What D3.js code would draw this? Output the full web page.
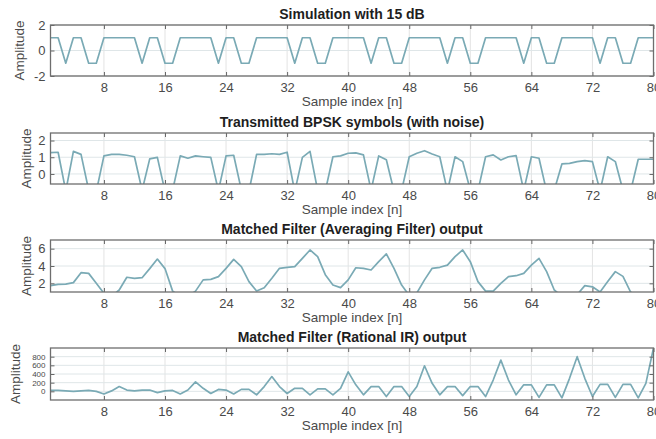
<!DOCTYPE html>
<html>
<head>
<meta charset="utf-8">
<script src="https://cdn.jsdelivr.net/npm/d3@7"></script>
<style>
  body { margin: 0; background: #fff; }
  svg { display: block; font-family: "Liberation Sans", Arial, sans-serif; }
</style>
</head>
<body>
<svg id="svg" width="656" height="439"></svg>
<script>
// chart data
var titles = [
  "Simulation with 15 dB",
  "Transmitted BPSK symbols (with noise)",
  "Matched Filter (Averaging Filter) output",
  "Matched Filter (Rational IR) output"
];
var xTicks = [8, 16, 24, 32, 40, 48, 56, 64, 72, 80];

var simSymbols = [
  1, 1, -1, 1, 1, -1, -1, 1, 1, 1,
  1, 1, -1, 1, 1, -1, -1, 1, 1, 1,
  1, 1, -1, 1, 1, -1, -1, 1, 1, 1,
  1, 1, -1, 1, 1, -1, -1, 1, 1, 1,
  1, 1, -1, 1, 1, -1, -1, 1, 1, 1,
  1, 1, -1, 1, 1, -1, -1, 1, 1, 1,
  1, 1, -1, 1, 1, -1, -1, 1, 1, 1,
  1, 1, -1, 1, 1, -1, -1, 1, 1, 1
];
var simTicks = [-2, 0, 2];

var noisySymbols = [
  1.28, 1.30, -1.02, 1.35, 1.17, -0.96, -1.05, 1.08, 1.17, 1.17,
  1.12, 1.03, -0.98, 0.90, 0.99, -1.04, -0.97, 1.08, 0.94, 1.08,
  1.03, 0.99, -1.01, 1.08, 1.12, -0.95, -1.03, 1.17, 1.17, 1.21,
  1.17, 1.30, -1.06, 0.99, 1.35, -0.98, -1.02, 1.03, 1.08, 1.24,
  1.26, 1.14, -0.97, 1.08, 0.85, -1.03, -0.99, 1.03, 1.24, 1.39,
  1.19, 1.03, -1.04, 1.03, 0.74, -0.96, -1.01, 1.03, 1.14, 0.84,
  1.03, 1.10, -0.99, 1.03, 0.94, -1.05, -0.97, 0.60, 0.63, 0.74,
  0.80, 0.74, -1.02, 1.03, 0.74, -0.98, -1.03, 0.88, 0.88, 0.88
];
var noisyTicks = [0, 1, 2];

var avgFilterOut = [
  1.73, 1.88, 1.90, 2.08, 3.23, 3.15, 2.00, 0.85, 0.50, 1.23,
  2.70, 2.58, 2.65, 3.70, 4.80, 3.70, 1.10, 0.50, 0.50, 1.10,
  2.40, 2.46, 2.77, 3.73, 4.77, 3.92, 2.20, 1.12, 1.50, 2.58,
  3.73, 3.85, 3.92, 4.88, 5.85, 5.08, 3.00, 1.80, 1.50, 2.40,
  3.80, 3.73, 3.54, 4.50, 5.40, 3.73, 1.80, 0.60, 0.90, 2.40,
  3.73, 3.85, 4.10, 5.08, 5.85, 4.50, 2.20, 1.10, 1.10, 2.00,
  2.77, 2.88, 3.15, 4.10, 4.88, 3.35, 1.23, 0.50, 0.50, 0.70,
  1.73, 1.60, 1.00, 2.20, 3.35, 2.80, 1.00, 0.50, 0.50, 0.50
];
var avgTicks = [2, 4, 6];

var iirFilterOut = [
  20, 20, 10, 0, 10, 20, 0, -60, 10, 110,
  30, 10, 30, 30, -30, 10, 20, -60, 30, 220,
  70, -50, 45, 30, -60, 45, 45, -80, 110, 340,
  110, -50, 70, 70, -80, 55, 55, -80, 70, 450,
  150, -80, 110, 110, -120, 110, 110, -120, 110, 590,
  185, -80, 110, 110, -100, 110, 110, -120, 260, 720,
  260, -80, 150, 150, -140, 150, 150, -150, 300, 800,
  300, -120, 160, 160, -140, 160, 160, -150, 185, 1000
];
var iirTicks = [0, 200, 400, 600, 800];

var panels = [
  {title: titles[0], values: simSymbols, domain: [-2, 2], ticks: simTicks, top: 25, bottom: 76, labelX: 24, tickFont: 13},
  {title: titles[1], values: noisySymbols, domain: [-0.6, 2.45], ticks: noisyTicks, top: 133, bottom: 184, labelX: 31, tickFont: 13},
  {title: titles[2], values: avgFilterOut, domain: [1, 7], ticks: avgTicks, top: 240, bottom: 292, labelX: 31, tickFont: 13},
  {title: titles[3], values: iirFilterOut, domain: [-200, 1000], ticks: iirTicks, top: 348, bottom: 400, labelX: 20, tickFont: 8}
];

var left = 50.5, right = 653.5;
var svg = d3.select("#svg");

var x = d3.scaleLinear().domain([1, 80]).range([left, right]);

panels.forEach(function(p, i) {
  var y = d3.scaleLinear().domain(p.domain).range([p.bottom, p.top]);
  var g = svg.append("g");

  // grid
  g.append("g").selectAll("line")
    .data(xTicks)
    .join("line")
      .attr("x1", d => x(d)).attr("x2", d => x(d))
      .attr("y1", p.top).attr("y2", p.bottom)
      .attr("stroke", "#e3e3e3");
  g.append("g").selectAll("line")
    .data(p.ticks)
    .join("line")
      .attr("x1", left).attr("x2", right)
      .attr("y1", d => y(d)).attr("y2", d => y(d))
      .attr("stroke", "#dfe6e8");

  // clip + line
  svg.append("clipPath")
      .attr("id", "clip" + i)
    .append("rect")
      .attr("x", left).attr("y", p.top)
      .attr("width", right - left).attr("height", p.bottom - p.top);

  var line = d3.line()
    .x((d, k) => x(k + 1))
    .y(d => y(d));

  g.append("path")
      .datum(p.values)
      .attr("clip-path", "url(#clip" + i + ")")
      .attr("fill", "none")
      .attr("stroke", "#7aaab5")
      .attr("stroke-width", 1.7)
      .attr("stroke-linejoin", "round")
      .attr("d", line);

  // axes, ticks pointing inward like matlab
  var bottomAxis = g.append("g")
      .attr("transform", "translate(0," + p.bottom + ")")
      .call(d3.axisBottom(x).tickValues(xTicks).tickSize(-4).tickPadding(7));
  g.append("g")
      .attr("transform", "translate(0," + p.top + ")")
      .call(d3.axisTop(x).tickValues(xTicks).tickSize(-4).tickFormat(""));
  var leftAxis = g.append("g")
      .attr("transform", "translate(" + left + ",0)")
      .call(d3.axisLeft(y).tickValues(p.ticks).tickSize(-4).tickPadding(5)
        .tickFormat(d => String(d)));
  g.append("g")
      .attr("transform", "translate(" + right + ",0)")
      .call(d3.axisRight(y).tickValues(p.ticks).tickSize(-4).tickFormat(""));

  g.selectAll(".domain").remove();
  g.selectAll(".tick line").attr("stroke", "#666");
  bottomAxis.selectAll("text")
      .attr("fill", "#4a4a4a")
      .style("font-size", "13px")
      .style("font-family", "Liberation Sans, Arial, sans-serif");
  leftAxis.selectAll("text")
      .attr("fill", "#4a4a4a")
      .style("font-size", p.tickFont + "px")
      .style("font-family", "Liberation Sans, Arial, sans-serif");

  // box
  g.append("rect")
      .attr("x", left).attr("y", p.top)
      .attr("width", right - left).attr("height", p.bottom - p.top)
      .attr("fill", "none")
      .attr("stroke", "#6e6e6e")
      .attr("stroke-width", 1.3);

  g.append("text")
      .attr("x", (left + right) / 2)
      .attr("y", p.top - 6)
      .attr("text-anchor", "middle")
      .attr("fill", "#1e1e1e")
      .attr("font-weight", "bold")
      .style("font-size", "14px")
      .text(p.title);

  g.append("text")
      .attr("x", (left + right) / 2)
      .attr("y", p.bottom + 30)
      .attr("text-anchor", "middle")
      .attr("fill", "#4a4a4a")
      .style("font-size", "13.5px")
      .text("Sample index [n]");

  g.append("text")
      .attr("transform", "translate(" + p.labelX + "," + ((p.top + p.bottom) / 2) + ") rotate(-90)")
      .attr("text-anchor", "middle")
      .attr("fill", "#4a4a4a")
      .style("font-size", "13.5px")
      .text("Amplitude");
});
</script>
</body>
</html>
